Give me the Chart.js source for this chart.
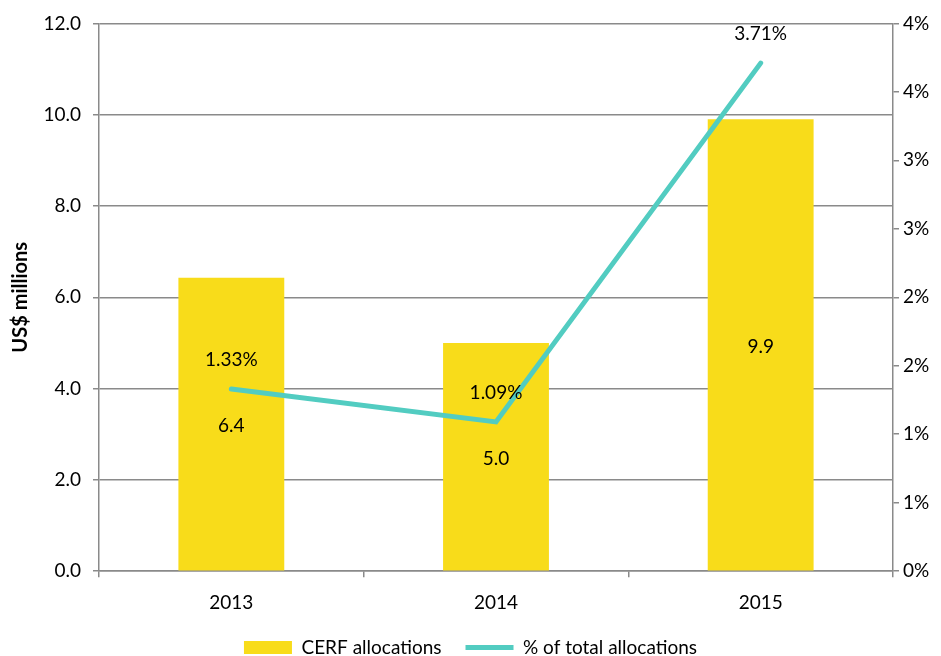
<!DOCTYPE html>
<html>
<head>
<meta charset="utf-8">
<title>CERF allocations</title>
<script src="https://cdn.jsdelivr.net/npm/chart.js@4/dist/chart.umd.min.js"></script>
<style>
    html, body { margin: 0; padding: 0; background: #fff; }
    #wrap { width: 941px; height: 656px; }
</style>
</head>
<body>
<div id="wrap"><canvas id="chart-cerf" width="941" height="656"></canvas></div>
<script>
// Chart data
const years = ['2013', '2014', '2015'];
const cerfAllocations = [6.43, 5.0, 9.9];      // US$ millions
const shareOfTotal = [1.33, 1.09, 3.71];       // % of total allocations
const rightTickLabels = ['0%', '1%', '1%', '2%', '2%', '3%', '3%', '4%', '4%'];

const FONT = 'Lato, "Open Sans", sans-serif';
const FONT_SIZE = 19;
const GRID = '#8a8a8a';

// Draws value labels: inside bars (centered) and above line points
const valueLabels = {
    id: 'valueLabels',
    afterDatasetsDraw(chart) {
        const ctx = chart.ctx;
        ctx.save();
        ctx.font = FONT_SIZE + 'px ' + FONT;
        ctx.fillStyle = '#000';
        ctx.textAlign = 'center';
        ctx.textBaseline = 'middle';

        chart.getDatasetMeta(1).data.forEach((bar, i) => {
            ctx.fillText(cerfAllocations[i].toFixed(1), bar.x, (bar.y + bar.base) / 2 + 2);
        });
        chart.getDatasetMeta(0).data.forEach((pt, i) => {
            ctx.fillText(shareOfTotal[i].toFixed(2) + '%', pt.x, pt.y - 29);
        });
        ctx.restore();
    }
};

document.addEventListener('DOMContentLoaded', () => {
    const canvas = document.getElementById('chart-cerf');

    new Chart(canvas, {
        type: 'bar',
        data: {
            labels: years,
            datasets: [{
                // line first so it is painted on top of the bars
                type: 'line',
                label: '% of total allocations',
                data: shareOfTotal,
                yAxisID: 'y1',
                borderColor: '#52ccc1',
                backgroundColor: '#52ccc1',
                borderWidth: 5,
                borderCapStyle: 'round',
                pointRadius: 0,
                pointHoverRadius: 0,
                pointStyle: 'line',
                tension: 0,
                fill: false
            }, {
                type: 'bar',
                label: 'CERF allocations',
                data: cerfAllocations,
                yAxisID: 'y',
                backgroundColor: '#f8dc1a',
                borderWidth: 0,
                pointStyle: 'rect',
                categoryPercentage: 1.0,
                barPercentage: 0.4
            }]
        },
        options: {
            responsive: false,
            animation: false,
            // negative bottom padding pushes the legend's own padding off the canvas
            layout: { padding: { top: 22, left: 0, right: 0, bottom: -11 } },
            plugins: {
                legend: {
                    position: 'bottom',
                    labels: {
                        usePointStyle: true,
                        pointStyleWidth: 48,
                        boxHeight: 13,
                        padding: 24,
                        color: '#000',
                        font: { family: FONT, size: FONT_SIZE },
                        sort: (a, b) => b.datasetIndex - a.datasetIndex
                    }
                },
                tooltip: { enabled: false }
            },
            scales: {
                x: {
                    afterFit: s => { s.height -= 14; },
                    grid: { drawOnChartArea: false, drawTicks: true, tickLength: 6, color: GRID, lineWidth: 1.5 },
                    border: { color: GRID, width: 1.5 },
                    ticks: { color: '#000', font: { family: FONT, size: FONT_SIZE }, padding: 14 }
                },
                y: {
                    position: 'left',
                    min: 0,
                    max: 12,
                    afterFit: s => { s.width = 99; },
                    ticks: {
                        stepSize: 2,
                        padding: 12,
                        color: '#000',
                        font: { family: FONT, size: FONT_SIZE },
                        callback: v => Number(v).toFixed(1)
                    },
                    grid: { color: GRID, lineWidth: 1.5, tickLength: 6 },
                    border: { color: GRID, width: 1.5 },
                    title: {
                        display: true,
                        text: 'US$ millions',
                        color: '#000',
                        font: { family: FONT, size: 20, weight: 'bold' },
                        padding: { top: 9, bottom: 4 }
                    }
                },
                y1: {
                    position: 'right',
                    min: 0,
                    max: 4,
                    afterFit: s => { s.width = 48; },
                    ticks: {
                        stepSize: 0.5,
                        padding: 4,
                        color: '#000',
                        font: { family: FONT, size: FONT_SIZE },
                        callback: (v, i) => rightTickLabels[i]
                    },
                    grid: { drawOnChartArea: false, color: GRID, lineWidth: 1.5, tickLength: 6 },
                    border: { color: GRID, width: 1.5 }
                }
            }
        },
        plugins: [valueLabels]
    });
});
</script>
</body>
</html>
